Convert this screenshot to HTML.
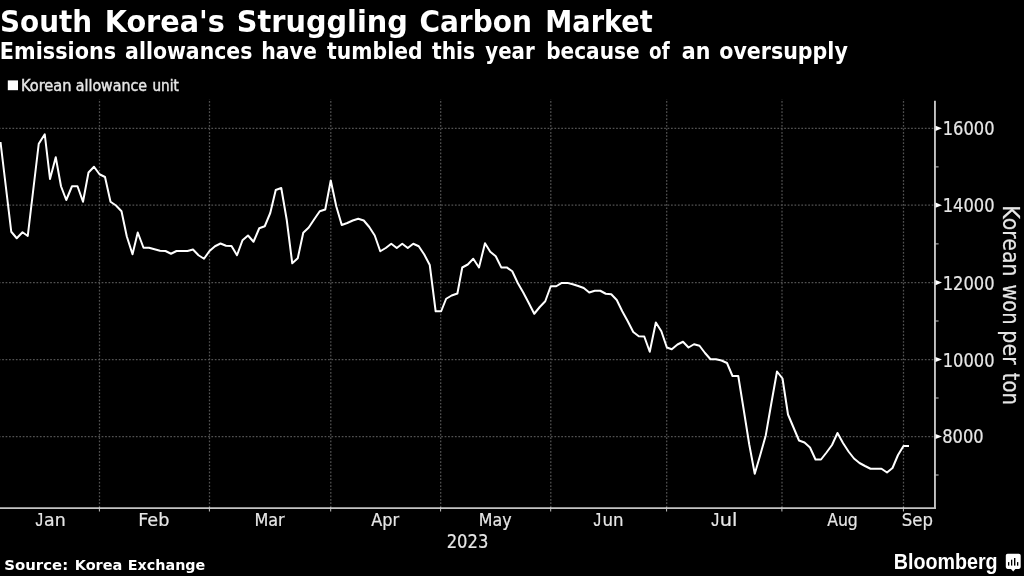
<!DOCTYPE html>
<html lang="en"><head><meta charset="utf-8"><title>South Korea's Struggling Carbon Market</title>
<style>
html,body{margin:0;padding:0;background:#000;}
body{width:1024px;height:576px;overflow:hidden;}
svg{display:block;}
text{font-family:"DejaVu Sans Condensed","DejaVu Sans","Liberation Sans",sans-serif;fill:#e6e6e6;white-space:pre;}
.t1,.t2,.src{font-family:"DejaVu Sans","Liberation Sans",sans-serif;font-weight:bold;}
.t1,.t2,.logo,.src{fill:#fff;}
.logo{font-family:"Liberation Sans","DejaVu Sans",sans-serif;font-weight:bold;}
.j{font-family:"Liberation Sans","DejaVu Sans",sans-serif;}
.lg,.mo,.yr,.yl,.rot{stroke:#e6e6e6;stroke-width:0.2px;}
.lg{stroke-width:0.4px;}
</style></head><body>
<svg width="1024" height="576" viewBox="0 0 1024 576">
<rect x="0" y="0" width="1024" height="576" fill="#000"/>
<g stroke="#525252" stroke-width="1.25" stroke-dasharray="1.72 1.71" fill="none">
<line x1="0" y1="128.3" x2="934" y2="128.3" stroke-dashoffset="1.27"/>
<line x1="0" y1="205.2" x2="934" y2="205.2" stroke-dashoffset="1.27"/>
<line x1="0" y1="282.6" x2="934" y2="282.6" stroke-dashoffset="1.27"/>
<line x1="0" y1="359.5" x2="934" y2="359.5" stroke-dashoffset="1.27"/>
<line x1="0" y1="436.5" x2="934" y2="436.5" stroke-dashoffset="1.27"/>
<line x1="99.5" y1="99" x2="99.5" y2="507" stroke-dashoffset="1.38"/>
<line x1="209.5" y1="99" x2="209.5" y2="507" stroke-dashoffset="1.38"/>
<line x1="330.8" y1="99" x2="330.8" y2="507" stroke-dashoffset="1.38"/>
<line x1="440.7" y1="99" x2="440.7" y2="507" stroke-dashoffset="1.38"/>
<line x1="550.8" y1="99" x2="550.8" y2="507" stroke-dashoffset="1.38"/>
<line x1="666.7" y1="99" x2="666.7" y2="507" stroke-dashoffset="1.38"/>
<line x1="782.0" y1="99" x2="782.0" y2="507" stroke-dashoffset="1.38"/>
<line x1="903.5" y1="99" x2="903.5" y2="507" stroke-dashoffset="1.38"/>
</g>
<g stroke="#c4c4c4" fill="none">
<line x1="934.95" y1="100.8" x2="934.95" y2="508.9" stroke-width="1.9"/>
<line x1="0" y1="508.05" x2="935.9" y2="508.05" stroke-width="1.7"/>
<line x1="99.4" y1="507" x2="99.4" y2="511.5" stroke-width="1"/>
<line x1="209.4" y1="507" x2="209.4" y2="511.5" stroke-width="1"/>
<line x1="330.7" y1="507" x2="330.7" y2="511.5" stroke-width="1"/>
<line x1="440.6" y1="507" x2="440.6" y2="511.5" stroke-width="1"/>
<line x1="550.7" y1="507" x2="550.7" y2="511.5" stroke-width="1"/>
<line x1="666.6" y1="507" x2="666.6" y2="511.5" stroke-width="1"/>
<line x1="781.9" y1="507" x2="781.9" y2="511.5" stroke-width="1"/>
<line x1="903.4" y1="507" x2="903.4" y2="511.5" stroke-width="1"/>
<line x1="935" y1="166.9" x2="938.6" y2="166.9" stroke-width="1"/>
<line x1="935" y1="243.9" x2="938.6" y2="243.9" stroke-width="1"/>
<line x1="935" y1="321.0" x2="938.6" y2="321.0" stroke-width="1"/>
<line x1="935" y1="398.0" x2="938.6" y2="398.0" stroke-width="1"/>
<line x1="935" y1="475.0" x2="938.6" y2="475.0" stroke-width="1"/>
</g>
<polygon points="935.5,125.8 942,128.3 935.5,130.9" fill="#fff"/>
<polygon points="935.5,202.6 942,205.2 935.5,207.8" fill="#fff"/>
<polygon points="935.5,280.0 942,282.6 935.5,285.2" fill="#fff"/>
<polygon points="935.5,356.9 942,359.5 935.5,362.1" fill="#fff"/>
<polygon points="935.5,433.9 942,436.5 935.5,439.1" fill="#fff"/>
<rect x="7.8" y="80.4" width="10.2" height="9.8" fill="#fff"/>
<text class="t1" y="32.1" font-size="29.5"><tspan x="-0.05" textLength="92.15" lengthAdjust="spacingAndGlyphs">South</tspan> <tspan x="104.72" textLength="120.18" lengthAdjust="spacingAndGlyphs">Korea's</tspan> <tspan x="236.79" textLength="171.09" lengthAdjust="spacingAndGlyphs">Struggling</tspan> <tspan x="419.38" textLength="112.54" lengthAdjust="spacingAndGlyphs">Carbon</tspan> <tspan x="545.36" textLength="107.33" lengthAdjust="spacingAndGlyphs">Market</tspan></text>
<text class="t2" y="59.0" font-size="22.2"><tspan x="-0.17" textLength="116.31" lengthAdjust="spacingAndGlyphs">Emissions</tspan> <tspan x="125.08" textLength="127.34" lengthAdjust="spacingAndGlyphs">allowances</tspan> <tspan x="261.16" textLength="55.73" lengthAdjust="spacingAndGlyphs">have</tspan> <tspan x="327.10" textLength="95.45" lengthAdjust="spacingAndGlyphs">tumbled</tspan> <tspan x="432.00" textLength="43.12" lengthAdjust="spacingAndGlyphs">this</tspan> <tspan x="485.30" textLength="49.36" lengthAdjust="spacingAndGlyphs">year</tspan> <tspan x="546.19" textLength="93.38" lengthAdjust="spacingAndGlyphs">because</tspan> <tspan x="649.07" textLength="20.56" lengthAdjust="spacingAndGlyphs">of</tspan> <tspan x="681.77" textLength="28.61" lengthAdjust="spacingAndGlyphs">an</tspan> <tspan x="719.28" textLength="128.57" lengthAdjust="spacingAndGlyphs">oversupply</tspan></text>
<text class="lg" y="91.2" font-size="15.0"><tspan x="21.00" textLength="50.54" lengthAdjust="spacingAndGlyphs">Korean</tspan> <tspan x="75.81" textLength="71.28" lengthAdjust="spacingAndGlyphs">allowance</tspan> <tspan x="152.44" textLength="26.35" lengthAdjust="spacingAndGlyphs">unit</tspan></text>
<text class="src" y="570.1" font-size="14.8"><tspan x="4.26" textLength="63.88" lengthAdjust="spacingAndGlyphs">Source:</tspan> <tspan x="74.70" textLength="47.69" lengthAdjust="spacingAndGlyphs">Korea</tspan> <tspan x="127.81" textLength="77.48" lengthAdjust="spacingAndGlyphs">Exchange</tspan></text>
<text class="logo" y="569.0" font-size="21.8"><tspan x="893.72" textLength="103.88" lengthAdjust="spacingAndGlyphs">Bloomberg</tspan></text>
<text class="yr" y="547.9" font-size="18.7"><tspan x="446.71" textLength="41.62" lengthAdjust="spacingAndGlyphs">2023</tspan></text>
<text class="mo" y="526.3" font-size="18.5"><tspan x="35.55" textLength="7.62" lengthAdjust="spacingAndGlyphs" class="j" font-size="18.9" dy="-0.6">J</tspan><tspan x="44.04" textLength="21.62" lengthAdjust="spacingAndGlyphs" dy="0.6">an</tspan></text>
<text class="mo" y="526.3" font-size="18.5"><tspan x="138.28" textLength="31.13" lengthAdjust="spacingAndGlyphs">Feb</tspan></text>
<text class="mo" y="526.3" font-size="18.5"><tspan x="254.42" textLength="30.29" lengthAdjust="spacingAndGlyphs">Mar</tspan></text>
<text class="mo" y="526.3" font-size="18.5"><tspan x="371.20" textLength="27.91" lengthAdjust="spacingAndGlyphs">Apr</tspan></text>
<text class="mo" y="526.3" font-size="18.5"><tspan x="478.79" textLength="32.80" lengthAdjust="spacingAndGlyphs">May</tspan></text>
<text class="mo" y="526.3" font-size="18.5"><tspan x="593.55" textLength="7.62" lengthAdjust="spacingAndGlyphs" class="j" font-size="18.9" dy="-0.6">J</tspan><tspan x="602.51" textLength="21.09" lengthAdjust="spacingAndGlyphs" dy="0.6">un</tspan></text>
<text class="mo" y="526.3" font-size="18.5"><tspan x="711.14" textLength="7.98" lengthAdjust="spacingAndGlyphs" class="j" font-size="18.9" dy="-0.6">J</tspan><tspan x="719.80" textLength="17.62" lengthAdjust="spacingAndGlyphs" dy="0.6">ul</tspan></text>
<text class="mo" y="526.3" font-size="18.5"><tspan x="827.20" textLength="30.62" lengthAdjust="spacingAndGlyphs">Aug</tspan></text>
<text class="mo" y="526.3" font-size="18.5"><tspan x="901.78" textLength="31.18" lengthAdjust="spacingAndGlyphs">Sep</tspan></text>
<text class="yl" y="135.1" font-size="19.3"><tspan x="942.77" textLength="51.77" lengthAdjust="spacingAndGlyphs">16000</tspan></text>
<text class="yl" y="212.0" font-size="19.3"><tspan x="942.77" textLength="51.77" lengthAdjust="spacingAndGlyphs">14000</tspan></text>
<text class="yl" y="289.6" font-size="19.3"><tspan x="942.77" textLength="51.77" lengthAdjust="spacingAndGlyphs">12000</tspan></text>
<text class="yl" y="366.5" font-size="19.3"><tspan x="942.77" textLength="51.77" lengthAdjust="spacingAndGlyphs">10000</tspan></text>
<text class="yl" y="443.1" font-size="19.3"><tspan x="942.21" textLength="41.43" lengthAdjust="spacingAndGlyphs">8000</tspan></text>
<text class="rot" y="0.0" font-size="22.6" transform="translate(1003.3,0) rotate(90)"><tspan x="205.26" textLength="71.45" lengthAdjust="spacingAndGlyphs">Korean</tspan> <tspan x="284.45" textLength="40.17" lengthAdjust="spacingAndGlyphs">won</tspan> <tspan x="330.36" textLength="34.30" lengthAdjust="spacingAndGlyphs">per</tspan> <tspan x="372.66" textLength="32.28" lengthAdjust="spacingAndGlyphs">ton</tspan></text>
<path d="M0.50 142.00 L11.25 231.75 L16.75 238.25 L22.50 232.25 L27.75 236.00 L38.75 143.75 L44.75 134.25 L50.00 179.00 L55.75 157.25 L61.00 186.25 L66.25 200.00 L72.00 186.25 L77.50 186.25 L83.00 201.75 L88.50 172.50 L94.00 166.75 L99.50 174.25 L105.00 177.00 L110.50 201.75 L116.00 205.50 L121.50 211.25 L126.75 236.25 L132.50 254.25 L137.75 232.50 L143.50 247.75 L149.00 247.75 L154.50 249.25 L160.00 250.75 L165.50 251.00 L171.00 253.75 L176.50 251.00 L182.00 251.00 L187.50 251.00 L193.00 249.50 L198.50 255.25 L204.00 258.75 L209.50 251.00 L215.00 246.25 L220.50 243.50 L226.00 245.75 L231.50 246.00 L237.00 255.25 L242.50 240.25 L248.00 235.50 L253.50 241.75 L259.25 228.25 L264.75 226.25 L270.25 213.00 L275.75 190.00 L281.25 188.00 L286.75 220.00 L292.25 263.25 L297.75 258.25 L303.25 232.75 L308.75 227.50 L314.25 219.25 L319.75 211.25 L325.25 209.50 L330.75 180.50 L336.25 206.25 L341.75 225.00 L347.25 223.00 L352.75 220.50 L358.25 218.75 L363.75 220.50 L369.25 227.00 L374.75 235.50 L380.25 251.25 L385.75 248.00 L391.25 243.75 L396.75 248.00 L402.25 243.75 L407.75 248.00 L413.25 243.75 L418.75 246.25 L424.25 254.50 L429.75 265.00 L435.65 311.25 L441.15 311.25 L446.15 298.75 L451.65 295.50 L457.40 293.50 L462.25 267.50 L467.75 264.50 L473.25 258.75 L479.00 267.50 L485.00 243.25 L490.25 251.75 L495.75 256.25 L501.25 267.40 L506.75 267.40 L512.25 271.25 L517.75 283.00 L523.25 292.50 L528.75 303.00 L534.25 313.75 L539.75 307.00 L545.25 301.25 L550.75 286.25 L556.25 286.25 L561.75 282.90 L567.25 282.90 L572.75 284.25 L578.25 286.00 L583.75 288.00 L589.25 292.50 L594.75 290.75 L600.25 290.75 L605.75 293.75 L611.25 294.25 L616.75 300.00 L622.25 311.25 L627.75 321.25 L633.25 332.00 L638.75 336.25 L644.25 336.50 L649.75 351.75 L655.85 322.50 L661.35 331.25 L666.85 347.50 L671.75 349.25 L677.50 344.50 L683.00 341.75 L688.50 347.50 L694.00 344.25 L699.50 345.75 L705.00 353.00 L710.50 359.25 L716.00 359.25 L721.50 360.50 L727.00 363.00 L732.50 376.00 L738.25 376.00 L743.75 410.00 L749.25 444.50 L754.75 473.80 L760.25 455.00 L765.75 435.40 L771.25 403.75 L777.00 371.50 L782.50 378.50 L788.00 414.50 L793.50 427.50 L799.00 440.50 L804.50 442.50 L810.00 447.50 L815.50 459.50 L821.00 459.50 L826.50 452.50 L832.00 445.00 L837.50 433.00 L843.00 443.00 L848.50 451.50 L854.00 458.50 L859.50 463.00 L865.00 466.00 L870.50 468.75 L876.00 468.75 L881.50 468.75 L887.00 472.50 L892.50 468.00 L898.00 455.00 L903.50 446.00 L909.00 446.00" fill="none" stroke="#fff" stroke-width="2" stroke-linejoin="round" stroke-linecap="butt"/>
<path d="M1007.6 553.8 h11.3 a1.8 1.8 0 0 1 1.8 1.8 v11.5 a1.8 1.8 0 0 1 -1.8 1.8 h-3.5 l-2.2 2.5 l-2.2 -2.5 h-3.4 a1.8 1.8 0 0 1 -1.8 -1.8 v-11.5 a1.8 1.8 0 0 1 1.8 -1.8 z" fill="#fff"/>
<g fill="#000"><rect x="1008" y="562.1" width="1.3" height="3.5"/><rect x="1011" y="559.7" width="1.3" height="5.9"/><rect x="1014" y="558" width="1.4" height="7.6"/><rect x="1017" y="562.1" width="1.3" height="3.6"/></g>
</svg></body></html>
